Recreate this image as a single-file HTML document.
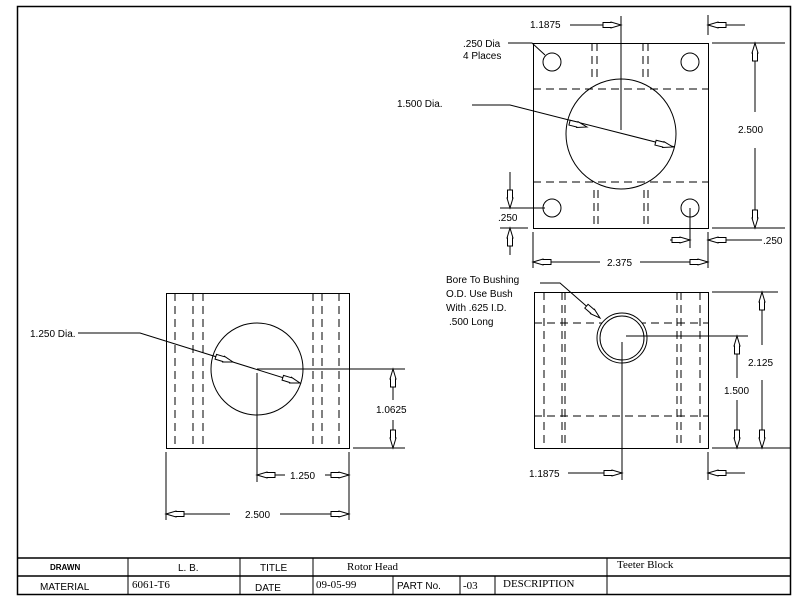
<!DOCTYPE html>
<html><head><meta charset="utf-8"><style>
html,body{margin:0;padding:0;background:#fff;width:800px;height:600px;overflow:hidden}
svg{display:block}
text{font-family:"Liberation Sans",sans-serif;font-size:10px;fill:#000}
.s{font-family:"Liberation Serif",serif;font-size:11px}
</style></head><body>
<svg width="800" height="600" viewBox="0 0 800 600" xmlns="http://www.w3.org/2000/svg">
<defs>
<polygon id="a" points="0,0 -10,-3 -10,-2.5 -18,-2.5 -18,2.5 -10,2.5 -10,3" fill="#fff" stroke="#000" stroke-width="1"/>
</defs>
<g fill="none" stroke="#000" stroke-width="1">
<!-- frame -->
<rect x="17.5" y="6.5" width="773" height="588" stroke-width="1.5"/>
<line x1="17" y1="558" x2="790" y2="558" stroke-width="1.5"/>
<line x1="17" y1="576" x2="790" y2="576" stroke-width="1.5"/>
<line x1="128" y1="558" x2="128" y2="594"/>
<line x1="240" y1="558" x2="240" y2="594"/>
<line x1="313" y1="558" x2="313" y2="594"/>
<line x1="607" y1="558" x2="607" y2="594"/>
<line x1="393" y1="576" x2="393" y2="594"/>
<line x1="460" y1="576" x2="460" y2="594"/>
<line x1="495" y1="576" x2="495" y2="594"/>

<!-- TOP RIGHT VIEW -->
<rect x="533.5" y="43.5" width="175" height="185"/>
<g stroke-dasharray="8,5">
<line x1="533" y1="89" x2="708" y2="89"/>
<line x1="533" y1="182" x2="708" y2="182"/>
<line x1="592" y1="43" x2="592" y2="80"/><line x1="597" y1="43" x2="597" y2="80"/>
<line x1="643" y1="43" x2="643" y2="80"/><line x1="648" y1="43" x2="648" y2="80"/>
<line x1="594" y1="190" x2="594" y2="228"/><line x1="598" y1="190" x2="598" y2="228"/>
<line x1="644" y1="190" x2="644" y2="228"/><line x1="648" y1="190" x2="648" y2="228"/>
</g>
<circle cx="552" cy="62" r="9"/><circle cx="690" cy="62" r="9"/>
<circle cx="552" cy="208" r="9"/><circle cx="690" cy="208" r="9"/>
<circle cx="621" cy="134" r="55"/>
<line x1="621" y1="16" x2="621" y2="130"/>
<line x1="570" y1="25" x2="621" y2="25"/>
<line x1="708" y1="15" x2="708" y2="35"/>
<line x1="708" y1="25" x2="745" y2="25"/>
<line x1="712" y1="43" x2="785" y2="43"/>
<line x1="712" y1="228" x2="785" y2="228"/>
<line x1="755" y1="43" x2="755" y2="112"/>
<line x1="755" y1="148" x2="755" y2="228"/>
<line x1="510" y1="172" x2="510" y2="208"/>
<line x1="510" y1="228" x2="510" y2="255"/>
<line x1="500" y1="208" x2="545" y2="208"/>
<line x1="500" y1="228" x2="528" y2="228"/>
<line x1="690" y1="208" x2="690" y2="248"/>
<line x1="670" y1="240" x2="690" y2="240"/>
<line x1="708" y1="240" x2="762" y2="240"/>
<line x1="533" y1="232" x2="533" y2="268"/>
<line x1="708" y1="232" x2="708" y2="268"/>
<line x1="533" y1="262" x2="600" y2="262"/>
<line x1="640" y1="262" x2="708" y2="262"/>
<polyline points="508,43 532,43 545,55"/>
<polyline points="472,105 510,105 675,147"/>

<!-- BOTTOM RIGHT VIEW -->
<rect x="534.5" y="292.5" width="174" height="156"/>
<g stroke-dasharray="8,5">
<line x1="544" y1="292" x2="544" y2="448"/>
<line x1="562" y1="292" x2="562" y2="448"/>
<line x1="565" y1="292" x2="565" y2="448"/>
<line x1="677" y1="292" x2="677" y2="448"/>
<line x1="681" y1="292" x2="681" y2="448"/>
<line x1="700" y1="292" x2="700" y2="448"/>
<line x1="534" y1="323" x2="708" y2="323"/>
<line x1="534" y1="416" x2="708" y2="416"/>
</g>
<circle cx="622" cy="338" r="25" fill="#fff"/>
<circle cx="622" cy="338" r="22"/>
<line x1="622" y1="342" x2="622" y2="480"/>
<line x1="626" y1="336" x2="748" y2="336"/>
<line x1="712" y1="292" x2="778" y2="292"/>
<line x1="712" y1="448" x2="790" y2="448"/>
<line x1="762" y1="292" x2="762" y2="345"/>
<line x1="762" y1="380" x2="762" y2="448"/>
<line x1="737" y1="336" x2="737" y2="378"/>
<line x1="737" y1="400" x2="737" y2="448"/>
<line x1="568" y1="473" x2="622" y2="473"/>
<line x1="708" y1="452" x2="708" y2="480"/>
<line x1="708" y1="473" x2="745" y2="473"/>
<polyline points="540,283 560,283 600,318"/>

<!-- LEFT VIEW -->
<rect x="166.5" y="293.5" width="183" height="155"/>
<g stroke-dasharray="8,5">
<line x1="175" y1="293" x2="175" y2="448"/>
<line x1="193" y1="293" x2="193" y2="448"/>
<line x1="203" y1="293" x2="203" y2="448"/>
<line x1="313" y1="293" x2="313" y2="448"/>
<line x1="322" y1="293" x2="322" y2="448"/>
<line x1="339" y1="293" x2="339" y2="448"/>
</g>
<circle cx="257" cy="369" r="46"/>
<line x1="257" y1="369" x2="405" y2="369"/>
<line x1="257" y1="373" x2="257" y2="482"/>
<line x1="353" y1="448" x2="405" y2="448"/>
<line x1="393" y1="369" x2="393" y2="400"/>
<line x1="393" y1="420" x2="393" y2="448"/>
<line x1="257" y1="475" x2="285" y2="475"/>
<line x1="325" y1="475" x2="349" y2="475"/>
<line x1="349" y1="452" x2="349" y2="520"/>
<line x1="166" y1="452" x2="166" y2="520"/>
<line x1="166" y1="514" x2="230" y2="514"/>
<line x1="280" y1="514" x2="349" y2="514"/>
<polyline points="78,333 140,333 300,383"/>
</g>

<!-- arrows -->
<use href="#a" transform="translate(621,25)"/>
<use href="#a" transform="translate(708,25) rotate(180)"/>
<use href="#a" transform="translate(755,43) rotate(-90)"/>
<use href="#a" transform="translate(755,228) rotate(90)"/>
<use href="#a" transform="translate(510,208) rotate(90)"/>
<use href="#a" transform="translate(510,228) rotate(-90)"/>
<use href="#a" transform="translate(690,240)"/>
<use href="#a" transform="translate(708,240) rotate(180)"/>
<use href="#a" transform="translate(533,262) rotate(180)"/>
<use href="#a" transform="translate(708,262)"/>
<use href="#a" transform="translate(587,127) rotate(14)"/>
<use href="#a" transform="translate(673,147) rotate(14)"/>
<use href="#a" transform="translate(600,318) rotate(41)"/>
<use href="#a" transform="translate(762,292) rotate(-90)"/>
<use href="#a" transform="translate(762,448) rotate(90)"/>
<use href="#a" transform="translate(737,336) rotate(-90)"/>
<use href="#a" transform="translate(737,448) rotate(90)"/>
<use href="#a" transform="translate(622,473)"/>
<use href="#a" transform="translate(708,473) rotate(180)"/>
<use href="#a" transform="translate(233,362) rotate(17)"/>
<use href="#a" transform="translate(300,383) rotate(17)"/>
<use href="#a" transform="translate(393,369) rotate(-90)"/>
<use href="#a" transform="translate(393,448) rotate(90)"/>
<use href="#a" transform="translate(257,475) rotate(180)"/>
<use href="#a" transform="translate(349,475)"/>
<use href="#a" transform="translate(166,514) rotate(180)"/>
<use href="#a" transform="translate(349,514)"/>

<!-- labels -->
<text x="530" y="28">1.1875</text>
<text x="463" y="47">.250 Dia</text>
<text x="463" y="59">4 Places</text>
<text x="397" y="107">1.500 Dia.</text>
<text x="738" y="133">2.500</text>
<text x="498" y="221">.250</text>
<text x="763" y="244">.250</text>
<text x="607" y="266">2.375</text>
<text x="446" y="283">Bore To Bushing</text>
<text x="446" y="297">O.D. Use Bush</text>
<text x="446" y="311">With .625 I.D.</text>
<text x="449" y="325">.500 Long</text>
<text x="748" y="366">2.125</text>
<text x="724" y="394">1.500</text>
<text x="529" y="477">1.1875</text>
<text x="30" y="337">1.250 Dia.</text>
<text x="376" y="413">1.0625</text>
<text x="290" y="479">1.250</text>
<text x="245" y="518">2.500</text>

<text x="50" y="570" style="font-size:8px;font-weight:bold">DRAWN</text>
<text x="178" y="571">L. B.</text>
<text x="260" y="571">TITLE</text>
<text x="347" y="570" class="s">Rotor Head</text>
<text x="617" y="568" class="s">Teeter Block</text>
<text x="40" y="590">MATERIAL</text>
<text x="132" y="588" class="s">6061-T6</text>
<text x="255" y="591">DATE</text>
<text x="316" y="588" class="s">09-05-99</text>
<text x="397" y="589">PART No.</text>
<text x="463" y="589" class="s">-03</text>
<text x="503" y="587" class="s">DESCRIPTION</text>
</svg>
</body></html>
